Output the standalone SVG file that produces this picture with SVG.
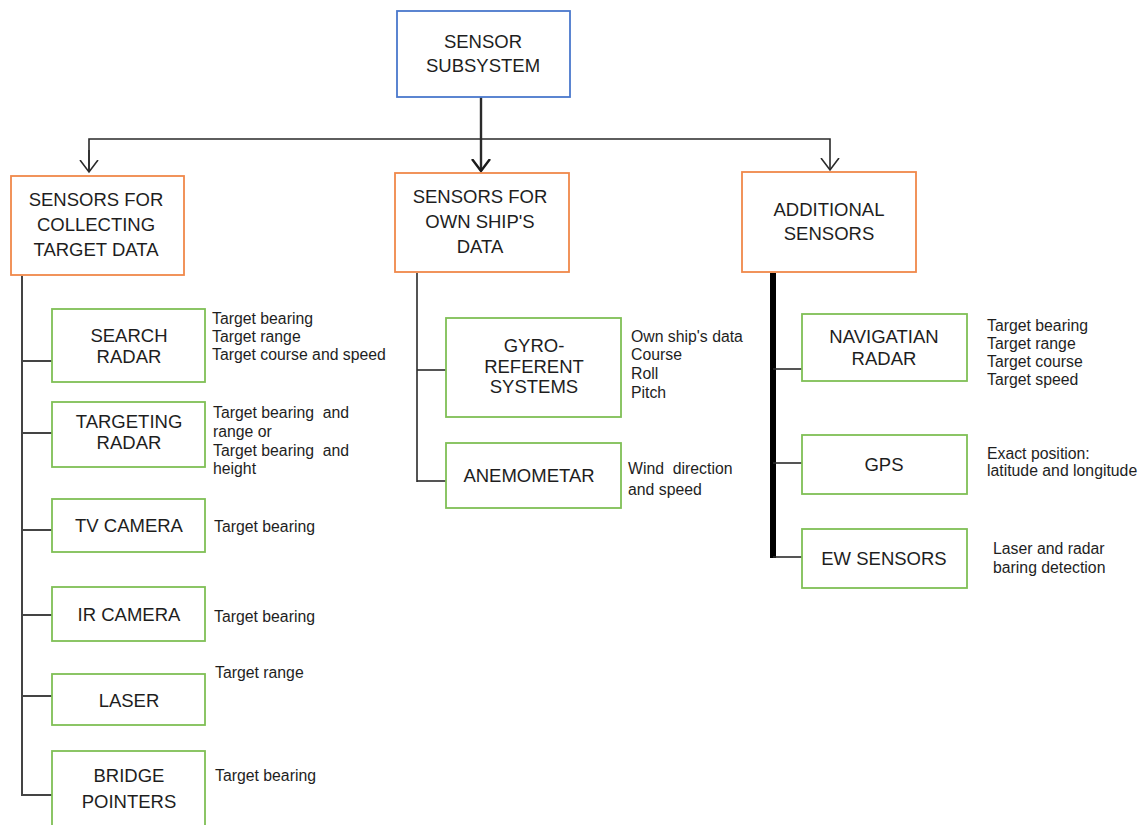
<svg xmlns="http://www.w3.org/2000/svg" width="1142" height="825" viewBox="0 0 1142 825">
  <style>
    .bg { fill: #ffffff; }
    .box { fill: #ffffff; stroke-width: 1.8; }
    .root { stroke: #4a78cc; }
    .group { stroke: #f0884a; }
    .leaf { stroke: #7fbf55; }
    .nt { font-family: "Liberation Sans", Arial, sans-serif; font-size: 18.5px; fill: #1e1e1e; text-anchor: middle; }
    .lb { font-family: "Liberation Sans", Arial, sans-serif; font-size: 15.8px; fill: #1e1e1e; white-space: pre; }
    .ln { fill: none; stroke: #2a2a2a; stroke-width: 1.6; }
    .trunk { fill: none; stroke: #444; stroke-width: 2; }
    .thick { fill: none; stroke: #000; stroke-width: 6; }
  </style>
  <defs>
    <marker id="vhead" markerWidth="20" markerHeight="20" refX="12" refY="10" orient="auto" markerUnits="userSpaceOnUse" viewBox="0 0 20 20">
      <polyline points="0,1 12,10 0,19" fill="none" stroke="#2a2a2a" stroke-width="1.6"/>
    </marker>
    <marker id="vheadBold" markerWidth="20" markerHeight="20" refX="12" refY="10" orient="auto" markerUnits="userSpaceOnUse" viewBox="0 0 20 20">
      <polyline points="0,1 12,10 0,19" fill="none" stroke="#1a1a1a" stroke-width="2.4"/>
    </marker>
  </defs>
  <rect class="bg" x="0" y="0" width="1142" height="825"/>

  <g id="connectors">
    <!-- root to the three groups -->
    <line class="ln" x1="481" y1="97" x2="481" y2="139" style="stroke-width:2.4"/>
    <polyline class="ln" points="89,171 89,139 830,139 830,170" marker-end="url(#vhead)"/>
    <line class="ln" x1="89" y1="150" x2="89" y2="172" marker-end="url(#vhead)"/>
    <line class="ln" x1="481" y1="139" x2="481" y2="171" style="stroke-width:2.4" marker-end="url(#vheadBold)"/>

    <!-- target data branch -->
    <line class="trunk" x1="22" y1="276" x2="22" y2="796"/>
    <line class="trunk" x1="22" y1="361" x2="52" y2="361"/>
    <line class="trunk" x1="22" y1="433" x2="52" y2="433"/>
    <line class="trunk" x1="22" y1="530" x2="52" y2="530"/>
    <line class="trunk" x1="22" y1="615" x2="52" y2="615"/>
    <line class="trunk" x1="22" y1="696" x2="52" y2="696"/>
    <line class="trunk" x1="22" y1="795" x2="52" y2="795"/>

    <!-- own ship branch -->
    <line class="ln" x1="417" y1="273" x2="417" y2="482"/>
    <line class="ln" x1="417" y1="370" x2="446" y2="370"/>
    <line class="ln" x1="417" y1="481" x2="446" y2="481"/>

    <!-- additional sensors branch -->
    <line class="thick" x1="773" y1="273" x2="773" y2="558"/>
    <line class="ln" x1="773" y1="369" x2="802" y2="369"/>
    <line class="ln" x1="773" y1="463" x2="802" y2="463"/>
    <line class="ln" x1="773" y1="557" x2="802" y2="557"/>
  </g>

  <g id="sensor-subsystem">
    <rect class="box root" x="397" y="11" width="173" height="86"/>
    <text class="nt" x="483" y="48">SENSOR</text>
    <text class="nt" x="483" y="72">SUBSYSTEM</text>
  </g>

  <g id="target-data">
    <rect class="box group" x="11" y="176" width="173" height="99"/>
    <text class="nt" x="96" y="206">SENSORS FOR</text>
    <text class="nt" x="96" y="231">COLLECTING</text>
    <text class="nt" x="96" y="256">TARGET DATA</text>
  </g>

  <g id="own-ship-data">
    <rect class="box group" x="395" y="173" width="174" height="99"/>
    <text class="nt" x="480" y="203">SENSORS FOR</text>
    <text class="nt" x="480" y="228">OWN SHIP'S</text>
    <text class="nt" x="480" y="253">DATA</text>
  </g>

  <g id="additional-sensors">
    <rect class="box group" x="742" y="172" width="174" height="100"/>
    <text class="nt" x="829" y="216">ADDITIONAL</text>
    <text class="nt" x="829" y="240">SENSORS</text>
  </g>

  <g id="search-radar">
    <rect class="box leaf" x="52" y="309" width="153" height="73"/>
    <text class="nt" x="129" y="342">SEARCH</text>
    <text class="nt" x="129" y="363">RADAR</text>
    <text class="lb" x="212" y="324">Target bearing</text>
    <text class="lb" x="212" y="342">Target range</text>
    <text class="lb" x="212" y="360">Target course and speed</text>
  </g>

  <g id="targeting-radar">
    <rect class="box leaf" x="52" y="402" width="153" height="65"/>
    <text class="nt" x="129" y="428">TARGETING</text>
    <text class="nt" x="129" y="449">RADAR</text>
    <text class="lb" x="213" y="418">Target bearing  and</text>
    <text class="lb" x="213" y="437">range or</text>
    <text class="lb" x="213" y="456">Target bearing  and</text>
    <text class="lb" x="213" y="474">height</text>
  </g>

  <g id="tv-camera">
    <rect class="box leaf" x="52" y="499" width="153" height="53"/>
    <text class="nt" x="129" y="532">TV CAMERA</text>
    <text class="lb" x="214" y="532">Target bearing</text>
  </g>

  <g id="ir-camera">
    <rect class="box leaf" x="52" y="587" width="153" height="54"/>
    <text class="nt" x="129" y="621">IR CAMERA</text>
    <text class="lb" x="214" y="622">Target bearing</text>
  </g>

  <g id="laser">
    <rect class="box leaf" x="52" y="674" width="153" height="51"/>
    <text class="nt" x="129" y="707">LASER</text>
    <text class="lb" x="215" y="678">Target range</text>
  </g>

  <g id="bridge-pointers">
    <rect class="box leaf" x="52" y="751" width="153" height="80"/>
    <text class="nt" x="129" y="782">BRIDGE</text>
    <text class="nt" x="129" y="808">POINTERS</text>
    <text class="lb" x="215" y="781">Target bearing</text>
  </g>

  <g id="gyro-referent">
    <rect class="box leaf" x="446" y="318" width="175" height="99"/>
    <text class="nt" x="534" y="352">GYRO-</text>
    <text class="nt" x="534" y="373">REFERENT</text>
    <text class="nt" x="534" y="393">SYSTEMS</text>
    <text class="lb" x="631" y="342">Own ship's data</text>
    <text class="lb" x="631" y="360">Course</text>
    <text class="lb" x="631" y="379">Roll</text>
    <text class="lb" x="631" y="398">Pitch</text>
  </g>

  <g id="anemometar">
    <rect class="box leaf" x="446" y="443" width="175" height="65"/>
    <text class="nt" x="529" y="482">ANEMOMETAR</text>
    <text class="lb" x="628" y="474">Wind  direction</text>
    <text class="lb" x="628" y="495">and speed</text>
  </g>

  <g id="navigatian-radar">
    <rect class="box leaf" x="802" y="314" width="165" height="67"/>
    <text class="nt" x="884" y="343">NAVIGATIAN</text>
    <text class="nt" x="884" y="365">RADAR</text>
    <text class="lb" x="987" y="331">Target bearing</text>
    <text class="lb" x="987" y="349">Target range</text>
    <text class="lb" x="987" y="367">Target course</text>
    <text class="lb" x="987" y="385">Target speed</text>
  </g>

  <g id="gps">
    <rect class="box leaf" x="802" y="435" width="165" height="59"/>
    <text class="nt" x="884" y="471">GPS</text>
    <text class="lb" x="987" y="459">Exact position:</text>
    <text class="lb" x="987" y="476">latitude and longitude</text>
  </g>

  <g id="ew-sensors">
    <rect class="box leaf" x="802" y="529" width="165" height="59"/>
    <text class="nt" x="884" y="565">EW SENSORS</text>
    <text class="lb" x="993" y="554">Laser and radar</text>
    <text class="lb" x="993" y="573">baring detection</text>
  </g>
</svg>
